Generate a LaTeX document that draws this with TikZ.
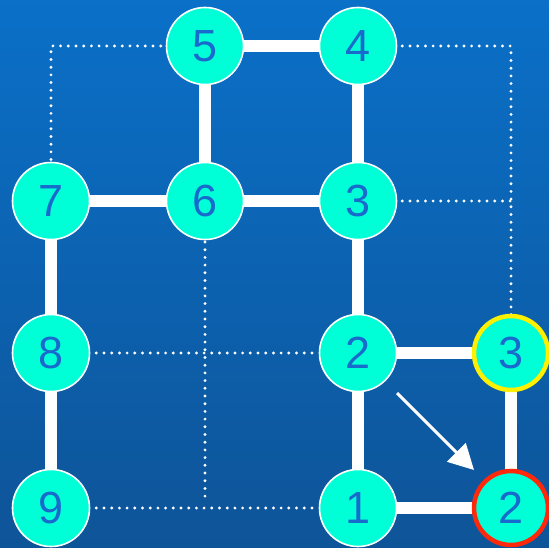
\documentclass[tikz,border=0pt]{standalone}
\usepackage{fontspec}
\setmainfont{Liberation Sans}
\usetikzlibrary{arrows.meta}
\definecolor{bgtop}{RGB}{10,112,200}
\definecolor{bgbot}{RGB}{14,84,152}
\definecolor{nodefill}{RGB}{0,255,214}
\definecolor{numcol}{RGB}{24,106,204}
\definecolor{ylw}{RGB}{255,240,0}
\definecolor{rd}{RGB}{255,40,10}
\pgfdeclarelayer{bgl}
\pgfdeclarelayer{edgel}
\pgfsetlayers{bgl,edgel,main}
\tikzset{
  vert/.style={circle, fill=nodefill, draw=white, line width=1.6pt, minimum size=77pt, inner sep=0pt,
    text=numcol, font=\fontsize{45}{45}\selectfont},
  ring/.style={line width=4.5pt, minimum size=74pt},
  edge/.style={white, line width=12pt},
  dots/.style={white, line width=3.2pt, line cap=round, dash pattern=on 0pt off 7.7pt},
}
\begin{document}
\begin{tikzpicture}[x=1pt,y=-1pt]
\useasboundingbox (0,0) rectangle (549,548);
\begin{pgfonlayer}{bgl}
\shade[top color=bgtop, bottom color=bgbot] (0,0) rectangle (549,548);
\end{pgfonlayer}
\coordinate (tl) at (51,46);
\coordinate (tr) at (511,46);
\coordinate (rm) at (511,201);
\coordinate (c6b) at (205,500);
\node[vert] (n5) at (205,46) {5};
\node[vert] (n4) at (358,46) {4};
\node[vert] (n7) at (51,201) {7};
\node[vert] (n6) at (205,201) {6};
\node[vert] (n3) at (358,201) {3};
\node[vert] (n8) at (51,353) {8};
\node[vert] (n2) at (358,353) {2};
\node[vert, ring, draw=ylw] (n3y) at (511,353) {3};
\node[vert] (n9) at (51,508) {9};
\node[vert] (n1) at (358,508) {1};
\node[vert, ring, draw=rd] (n2r) at (511,508) {2};
\begin{pgfonlayer}{edgel}
\draw[dots] ([xshift=-5pt]n5.west) -- (tl) -- ([yshift=-5pt]n7.north);
\draw[dots] ([xshift=5pt]n4.east) -- (tr) -- ([yshift=-6pt]n3y.north);
\draw[dots] ([xshift=5pt]n3.east) -- (rm);
\draw[dots] ([yshift=6pt]n6.south) -- (c6b);
\draw[dots] ([xshift=6pt]n8.east) -- ([xshift=-6pt]n2.west);
\draw[dots] ([xshift=6pt]n9.east) -- ([xshift=-6pt]n1.west);
\foreach \a/\b in {n5/n4,n5/n6,n4/n3,n7/n6,n6/n3,n3/n2,n7/n8,n8/n9,n2/n1,n2/n3y,n3y/n2r,n1/n2r}
  \draw[edge] (\a) -- (\b);
\end{pgfonlayer}
\coordinate (as) at (397,393);
\coordinate (ae) at (474,470);
\draw[white, line width=3pt, -{Triangle[length=25pt,width=26pt]}] (as) -- (ae);
\end{tikzpicture}
\end{document}
